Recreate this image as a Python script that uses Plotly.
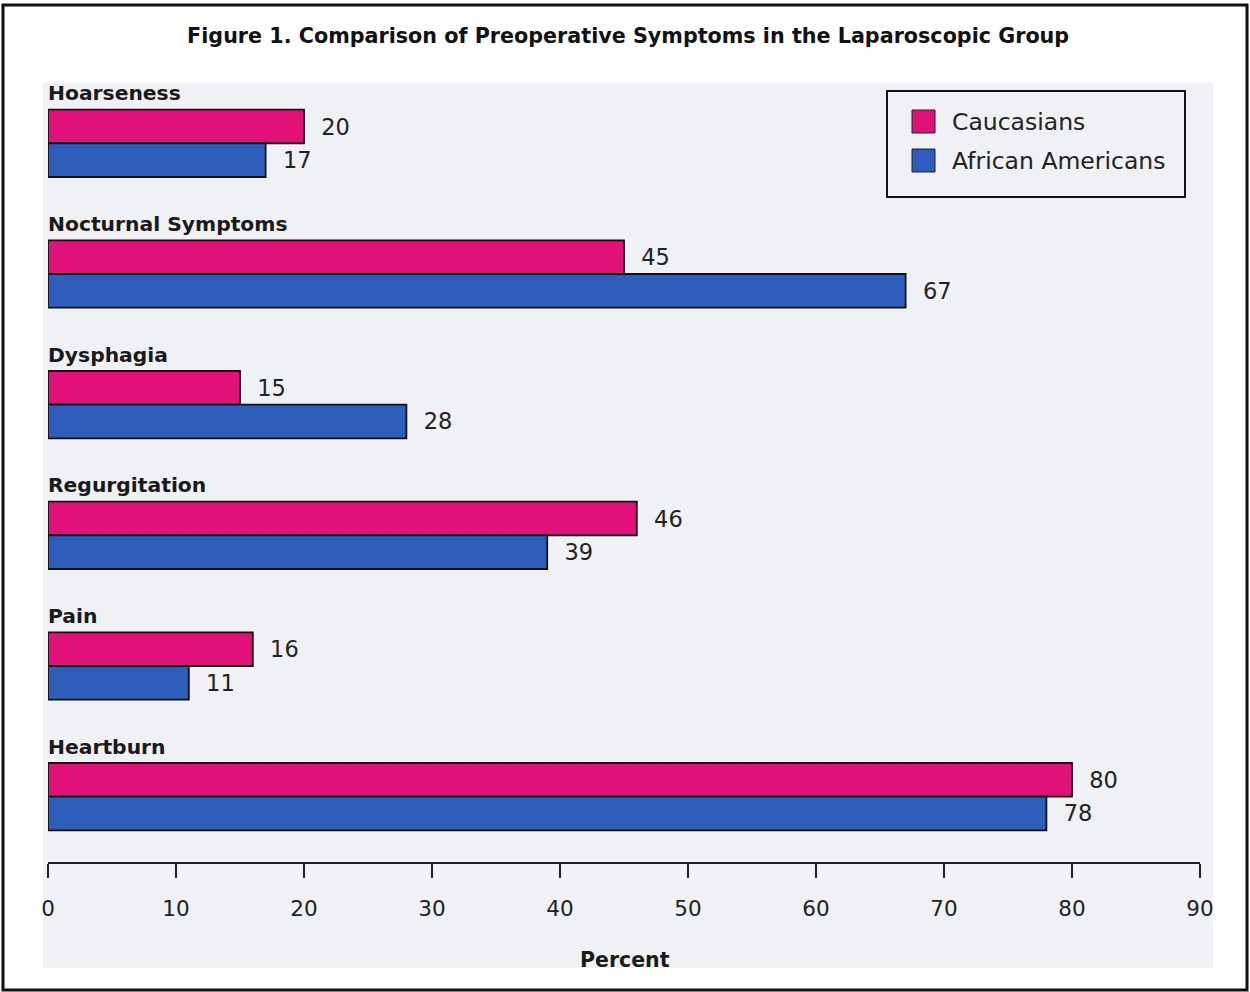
import plotly.graph_objects as go

categories = ["Hoarseness", "Nocturnal Symptoms", "Dysphagia", "Regurgitation", "Pain", "Heartburn"]
caucasians = [20, 45, 15, 46, 16, 80]
african_americans = [17, 67, 28, 39, 11, 78]
x_ticks = [0, 10, 20, 30, 40, 50, 60, 70, 80, 90]
series_names = ["Caucasians", "African Americans"]

FONT = "DejaVu Sans"
PINK = "#e0127a"
BLUE = "#2e5dbb"
COLORS = [PINK, BLUE]


def px_x(px):
    return (px - 48) / 1152


def px_y(py):
    return (862 - py) / 784


fig = go.Figure()
for name, vals, col in zip(series_names, [caucasians, african_americans], COLORS):
    fig.add_trace(go.Bar(
        name=name, y=categories, x=vals, orientation="h",
        marker=dict(color=col, line=dict(color="#111", width=1.8)),
        texttemplate="  %{x}", textposition="outside",
        textfont=dict(family=FONT, size=22.5, color="#222"), cliponaxis=False,
        showlegend=False,
    ))

annotations = []
for c in categories:
    annotations.append(dict(
        x=0, y=c, xref="x", yref="y", xanchor="left", yanchor="middle",
        yshift=50, xshift=-2, text="<b>%s</b>" % c, showarrow=False,
        font=dict(family=FONT, size=20.3, color="#1a1a1a"),
    ))
annotations.append(dict(
    x=px_x(625), y=px_y(960), xref="paper", yref="paper",
    xanchor="center", yanchor="middle", text="<b>Percent</b>", showarrow=False,
    font=dict(family=FONT, size=20.5, color="#1a1a1a"),
))

shapes = [
    dict(type="rect", xref="paper", yref="paper",
         x0=px_x(43), x1=px_x(1213), y0=px_y(968), y1=px_y(83),
         fillcolor="#eff1f4", line=dict(width=0), layer="below"),
    dict(type="rect", xref="paper", yref="paper",
         x0=px_x(3), x1=px_x(1247), y0=px_y(990), y1=px_y(5),
         fillcolor="rgba(0,0,0,0)", line=dict(color="#111", width=3), layer="above"),
    # legend box
    dict(type="rect", xref="paper", yref="paper",
         x0=px_x(887), x1=px_x(1185), y0=px_y(197), y1=px_y(91),
         fillcolor="rgba(0,0,0,0)", line=dict(color="#111", width=2), layer="above"),
]
# legend swatches and labels
for i, (name, col) in enumerate(zip(series_names, COLORS)):
    top = 110 + i * 39
    shapes.append(dict(type="rect", xref="paper", yref="paper",
                       x0=px_x(912), x1=px_x(935), y0=px_y(top + 23), y1=px_y(top),
                       fillcolor=col, line=dict(color="#222", width=1)))
    annotations.append(dict(
        x=px_x(950), y=px_y(top + 12), xref="paper", yref="paper",
        xanchor="left", yanchor="middle", text=name, showarrow=False,
        font=dict(family=FONT, size=23.5, color="#222"),
    ))

fig.update_layout(
    width=1250, height=992,
    margin=dict(l=48, r=50, t=78, b=130),
    paper_bgcolor="white", plot_bgcolor="rgba(0,0,0,0)",
    barmode="group", bargap=0.485, bargroupgap=0,
    showlegend=False,
    title=dict(text="<b>Figure 1. Comparison of Preoperative Symptoms in the Laparoscopic Group</b>",
               x=0.5025, xref="container", y=1 - 36 / 992, yref="container",
               xanchor="center", yanchor="middle",
               font=dict(family=FONT, size=20.7, color="#111")),
    xaxis=dict(range=[0, 90], tickvals=x_ticks, ticks="outside", ticklen=14, tickwidth=2,
               tickcolor="#222", showline=True, linewidth=2, linecolor="#222",
               showgrid=False, zeroline=False, ticklabelstandoff=12,
               tickfont=dict(family=FONT, size=21.5, color="#222")),
    yaxis=dict(autorange="reversed", showticklabels=False, showgrid=False,
               zeroline=False, showline=False, ticks=""),
    annotations=annotations, shapes=shapes,
)

fig.write_html("out.html")
